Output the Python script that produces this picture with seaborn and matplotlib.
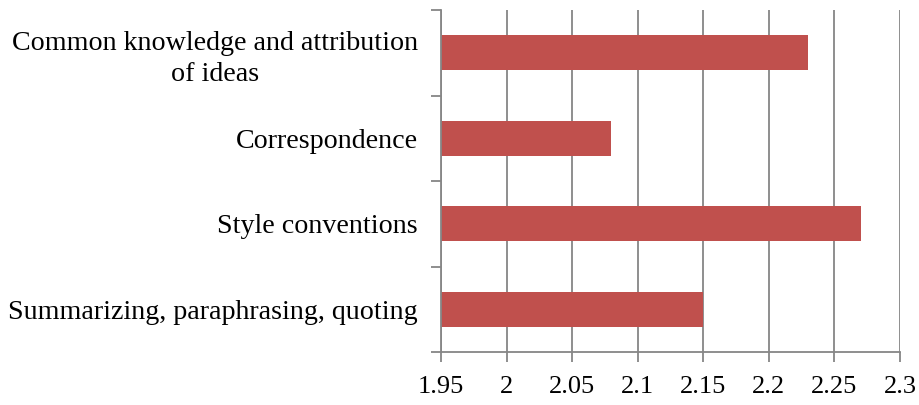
import matplotlib
matplotlib.use("Agg")
import matplotlib.pyplot as plt
import seaborn as sns
import pandas as pd
import numpy as np

categories = ["Common knowledge and attribution\nof ideas", "Correspondence",
              "Style conventions", "Summarizing, paraphrasing, quoting"]
values = [2.23, 2.08, 2.27, 2.15]
xticks = [1.95, 2.0, 2.05, 2.1, 2.15, 2.2, 2.25, 2.3]
xticklabels = ["1.95", "2", "2.05", "2.1", "2.15", "2.2", "2.25", "2.3"]

sns.set_theme(style="white")
plt.rcParams['font.family'] = ['Liberation Serif', 'DejaVu Serif']

df = pd.DataFrame({"cat": categories, "val": values})

fig = plt.figure(figsize=(9.19, 4.05), dpi=100)
ax = fig.add_axes([441/919, 1 - 352/405, (900-441)/919, (352-10)/405])

sns.barplot(data=df, x="val", y="cat", orient="h", color="#C0504D",
            saturation=1, width=0.41, ax=ax, edgecolor="none")

grid_c = "#868686"
ax.set_xlim(1.95, 2.3)
ax.set_ylim(3.5, -0.5)
ax.set_xticks(xticks)
ax.set_xticklabels(xticklabels, fontsize=19)
ax.xaxis.grid(True, color=grid_c, linewidth=1.3)
ax.set_axisbelow(True)
ax.set_xlabel("")
ax.set_ylabel("")

ax.tick_params(axis="x", direction="out", length=7, width=1.3, color=grid_c,
               pad=10.5, labelcolor="black", bottom=True)
ax.set_yticks(range(len(categories)))
ax.set_yticklabels(categories, fontsize=20.2, multialignment="center",
                   linespacing=1.35)
ax.tick_params(axis="y", which="major", length=0, pad=16.5, labelcolor="black")
ax.set_yticks(np.arange(-0.5, len(categories), 1.0), minor=True)
ax.tick_params(axis="y", which="minor", direction="out", length=7, width=1.3,
               color=grid_c, left=True)

for s in ["top", "right"]:
    ax.spines[s].set_visible(False)
for s in ["left", "bottom"]:
    ax.spines[s].set_color(grid_c)
    ax.spines[s].set_linewidth(1.3)

fig.savefig("out.png", dpi=100)
